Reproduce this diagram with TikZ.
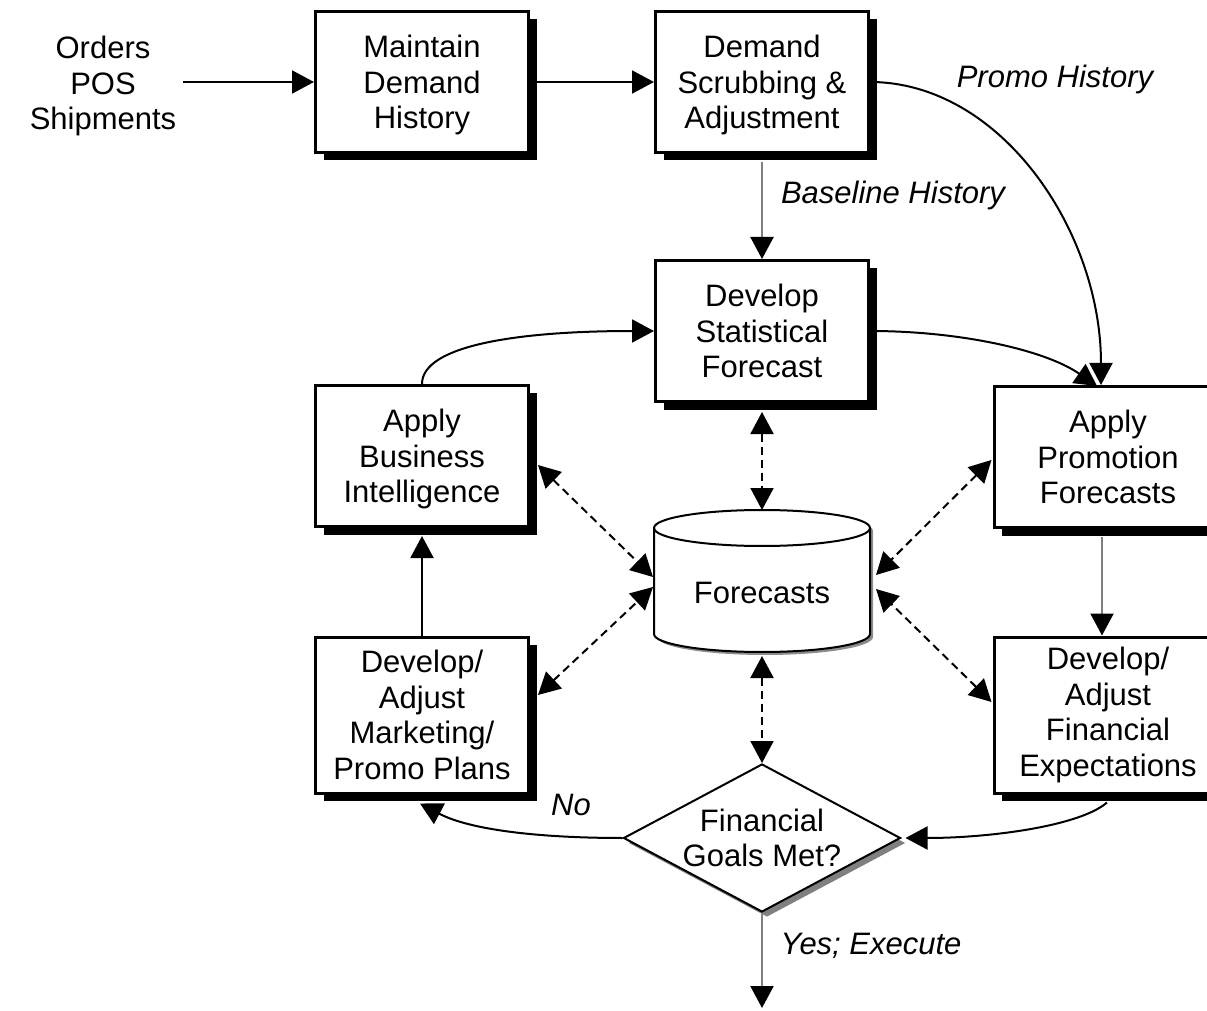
\documentclass[tikz,border=0pt]{standalone}
\usepackage{fontspec}
\setmainfont{Liberation Sans}
\usetikzlibrary{arrows.meta,shapes.geometric,shadows,calc}

\tikzset{
  procbox/.style={draw, line width=1.5pt, fill=white, align=center,
    minimum width=106.5pt, minimum height=70.5pt, inner sep=2pt,
    drop shadow={shadow xshift=4pt, shadow yshift=-4pt, fill=black, opacity=1}},
  tallbox/.style={procbox, minimum height=78pt},
  widebox/.style={minimum width=114pt},
  flatbase/.style={text depth=0pt},
  plaintext/.style={align=center},
  note/.style={font=\fontsize{15.5pt}{17.8pt}\selectfont\itshape},
  flow/.style={line width=1pt, -{Triangle[length=11pt,width=11.5pt]}},
  softflow/.style={line width=1.1pt, draw=black!50,
    -{Triangle[length=11pt,width=11.5pt,color=black,fill=black]}},
  sync/.style={line width=1pt, dash pattern=on 4pt off 2.5pt,
    {Triangle[length=11pt,width=11.5pt]}-{Triangle[length=11pt,width=11.5pt]}},
  decision/.style={diamond, draw, line width=1pt, fill=white, align=center,
    aspect=1.86, inner sep=-6pt, minimum width=138.5pt, minimum height=74pt,
    drop shadow={shadow xshift=2.5pt, shadow yshift=-2.5pt, fill=black!50, opacity=1}},
}

\begin{document}
\begin{tikzpicture}[x=0.5pt, y=-0.5pt, font=\fontsize{15.5pt}{17.8pt}\selectfont]
\path[use as bounding box] (0,0) rectangle (1207,1011);

% process boxes
\node[plaintext] (src) at (103,86) {Orders\\POS\\Shipments};
\node[procbox, flatbase] (mh) at (422,82) {Maintain\\Demand\\History};
\node[procbox, flatbase] (sc) at (762,82) {Demand\\Scrubbing \&\\Adjustment};
\node[procbox] (ds) at (762,331) {Develop\\Statistical\\Forecast};
\node[procbox, flatbase] (abi) at (422,456) {Apply\\Business\\Intelligence};
\node[procbox, widebox] (ap) at (1108,457) {Apply\\Promotion\\Forecasts};
\node[tallbox] (mk) at (422,715) {Develop/\\Adjust\\Marketing/\\Promo Plans};
\node[tallbox, widebox] (fe) at (1108,715) {Develop/\\Adjust\\Financial\\Expectations};

% forecasts store (cylinder)
\node[rectangle, minimum width=108pt, minimum height=71pt, inner sep=0pt, outer sep=0pt] (fc) at (762,581) {};
\begin{scope}[shift={(3,3)}]
  \fill[black!45] (654,528) -- (654,634)
    arc[start angle=180, end angle=360, x radius=54pt, y radius=9pt]
    -- (870,528) arc[start angle=0, end angle=180, x radius=54pt, y radius=9pt] -- cycle;
\end{scope}
\fill[white] (654,528) -- (654,634)
  arc[start angle=180, end angle=360, x radius=54pt, y radius=9pt]
  -- (870,528) arc[start angle=0, end angle=180, x radius=54pt, y radius=9pt] -- cycle;
\draw[line width=1pt] (654,528) -- (654,634)
  arc[start angle=180, end angle=360, x radius=54pt, y radius=9pt] -- (870,528);
\draw[line width=1pt] (762,528) ellipse[x radius=54pt, y radius=9pt];
\node (fclabel) at (762,593) {Forecasts};

% decision
\node[decision] (dm) at (762,838) {Financial\\Goals Met?};
\coordinate (out) at (762,1008);

% labels
\node[note] (promo) at (1055,79) {Promo History};
\node[note] (base) at (893,195) {Baseline History};
\node[note] (no) at (571,805) {No};
\node[note] (yes) at (871,946) {Yes; Execute};

% main flow
\draw[flow] (src.east |- mh.west) -- (mh.west);
\draw[flow] (mh.east) -- (sc.west);
\draw[softflow] ($(sc.south)+(0,8)$) -- (ds.north);
\draw[flow] (sc.east) .. controls (1000,82) and (1101,230) .. ($(ap.north)+(-7,0)$);
\draw[flow] (ds.east) .. controls (960,331) and (1045,350) .. ($(ap.north)+(-11,1)$);
\draw[flow] (abi.north) .. controls (422,345) and (520,331) .. (ds.west);
\draw[flow] (mk.north) -- ($(abi.south)+(0,8)$);
\draw[softflow] ($(ap.south)+(-6,8)$) -- ($(fe.north)+(-6,0)$);
\draw[flow] ($(fe.south)+(-1,8)$) .. controls (1080,826) and (990,838) .. ($(dm.east)+(4,0)$);
\draw[flow] (dm.west) .. controls (540,838) and (470,830) .. ($(mk.south)+(-2,9)$);
\draw[softflow] (dm.south) -- (out);

% links to the forecasts store
\draw[sync] ($(ds.south)+(0,9)$) -- (fc.north);
\draw[sync] ($(abi.east)+(8,9)$) -- ($(fc.west)+(-1,-4)$);
\draw[sync] ($(mk.east)+(8,-20)$) -- ($(fc.west)+(-1,6)$);
\draw[sync] ($(ap.west)+(-1,3)$) -- ($(fc.east)+(6,-6)$);
\draw[sync] ($(fe.west)+(-1,-13)$) -- ($(fc.east)+(6,8)$);
\draw[sync] ($(fc.south)+(0,4)$) -- (dm.north);
\end{tikzpicture}
\end{document}
